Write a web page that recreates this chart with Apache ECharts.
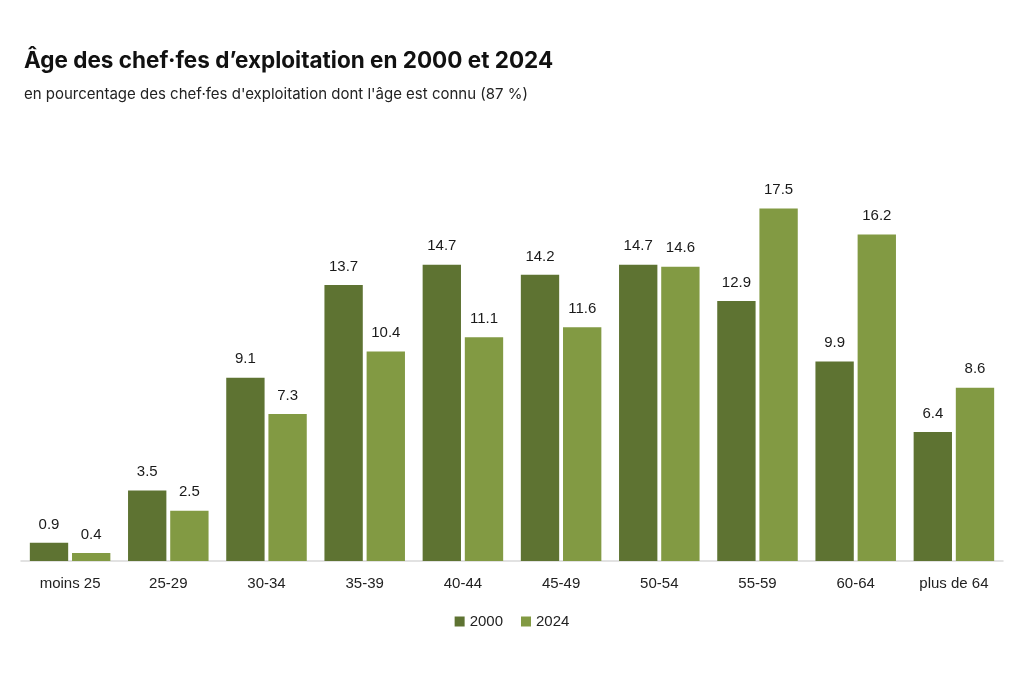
<!DOCTYPE html>
<html>
<head>
<meta charset="utf-8">
<script src="https://cdn.jsdelivr.net/npm/echarts@6/dist/echarts.min.js"></script>
<style>
html,body{margin:0;padding:0;background:#fff;}
#c{width:1024px;height:676px;}
</style>
</head>
<body>
<div id="c"></div>
<script>
const categories = ["moins 25","25-29","30-34","35-39","40-44","45-49","50-54","55-59","60-64","plus de 64"];
const values2000 = [0.9,3.5,9.1,13.7,14.7,14.2,14.7,12.9,9.9,6.4];
const values2024 = [0.4,2.5,7.3,10.4,11.1,11.6,14.6,17.5,16.2,8.6];
const seriesNames = ["2000","2024"];

const chart = echarts.init(document.getElementById('c'));
const font = "Inter, 'Noto Sans', sans-serif";
const font2 = "'Liberation Sans', Arial, sans-serif";
const labelCfg = {show:true, position:'top', distance:11, color:'#1a1a1a', fontSize:15, fontFamily:font2, formatter: p => p.value.toFixed(1)};
chart.setOption({
  backgroundColor:'#fff',
  animation:false,
  title:[
    {text:"Âge des chef·fes d’exploitation en 2000 et 2024", left:19, top:45, textStyle:{fontSize:22.5, fontWeight:'bold', color:'#111', fontFamily:font}},
    {text:"en pourcentage des chef·fes d'exploitation dont l'âge est connu (87 %)", left:19, top:82, textStyle:{fontSize:15, fontWeight:'normal', color:'#222', fontFamily:font}}
  ],
  legend:{data:seriesNames, bottom:42, left:'center', itemWidth:10, itemHeight:10, itemGap:18, icon:'rect', textStyle:{fontSize:15, color:'#222', fontFamily:font2}},
  grid:{left:21, right:21, top:158, bottom:115, containLabel:false},
  xAxis:{type:'category', data:categories, axisLine:{lineStyle:{color:'#d9d9d9', width:1.5}}, axisTick:{show:false}, axisLabel:{fontSize:15, color:'#222', margin:15, fontFamily:font2}},
  yAxis:{type:'value', min:0, max:20, show:false, splitLine:{show:false}},
  series:[
    {name:seriesNames[0], type:'bar', data:values2000, itemStyle:{color:'#5e7332'}, barGap:'10%', barCategoryGap:'18%', label:labelCfg},
    {name:seriesNames[1], type:'bar', data:values2024, itemStyle:{color:'#829a43'}, label:labelCfg}
  ]
});
</script>
</body>
</html>
